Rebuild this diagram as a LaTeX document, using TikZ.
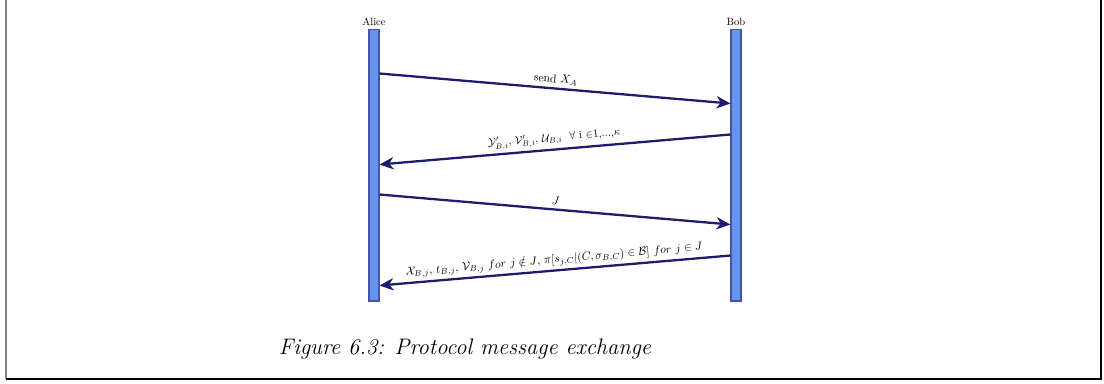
\documentclass[tikz,border=0pt]{standalone}
\usepackage{amsmath,amssymb}
\usepackage{xcolor}
\usepackage{tikz}
\usetikzlibrary{positioning, calc, arrows.meta}

\definecolor{barBlue}{RGB}{100,149,237}
\definecolor{barEdge}{RGB}{72,82,170}
\definecolor{msgBlue}{RGB}{28,28,110}

\begin{document}
\begin{tikzpicture}[
    x=0.02cm, y=-0.02cm,
    lifeNode/.style={rectangle, draw=barEdge, fill=barBlue, minimum width=0.2cm, minimum height=5.44cm, inner sep=0pt, line width=0.6pt},
    nameNode/.style={scale=0.6, inner sep=1pt},
    msgArrow/.style={draw=msgBlue, line width=1.3pt, -{Stealth[length=8pt, width=7pt, inset=2.5pt]}},
    msgLabel/.style={scale=0.66, sloped, above, midway, inner sep=3pt}
]
    \useasboundingbox (0,0) rectangle (1104,383);

    % Frame
    \draw[gray, line width=0.8pt] (6,0) -- (6,379);
    \draw[black, line width=0.8pt] (6,379) -- (1101,379) -- (1101,0);

    % Lifelines
    \node[lifeNode] (alice) at (374,165) {};
    \node[lifeNode] (bob) at (736,165) {};
    \node[nameNode, above=1pt of alice] (aliceName) {Alice};
    \node[nameNode, above=1pt of bob] (bobName) {Bob};

    % Messages
    \draw[msgArrow] ($(alice.north east)+(0,45)$) -- ($(bob.north west)+(0,75)$)
        node[msgLabel] {send $X_A$};
    \draw[msgArrow] ($(bob.north west)+(0,106)$) -- ($(alice.north east)+(0,136)$)
        node[msgLabel, scale=0.95] {$\mathcal{Y}'_{B,i}$, $\mathcal{V}'_{B,i}$, $\mathcal{U}_{B,i}$ \ $\forall$ i $\in$1,...,$\kappa$};
    \draw[msgArrow] ($(alice.north east)+(0,166)$) -- ($(bob.north west)+(0,196)$)
        node[msgLabel] {$J$};
    \draw[msgArrow] ($(bob.north west)+(0,227)$) -- ($(alice.north east)+(0,257)$)
        node[msgLabel] {$\mathcal{X}_{B,j}$, $t_{B,j}$, $\mathcal{V}_{B,j}$ $for\ j \notin J$, $\pi[s_{j,C}|(C,\sigma_{B,C}) \in \mathcal{B}]$ $for\ j \in J$};

    % Caption
    \node[font=\fontsize{12.8}{15}\selectfont\itshape] (caption) at (465,349) {Figure 6.3: Protocol message exchange};

\end{tikzpicture}
\end{document}
